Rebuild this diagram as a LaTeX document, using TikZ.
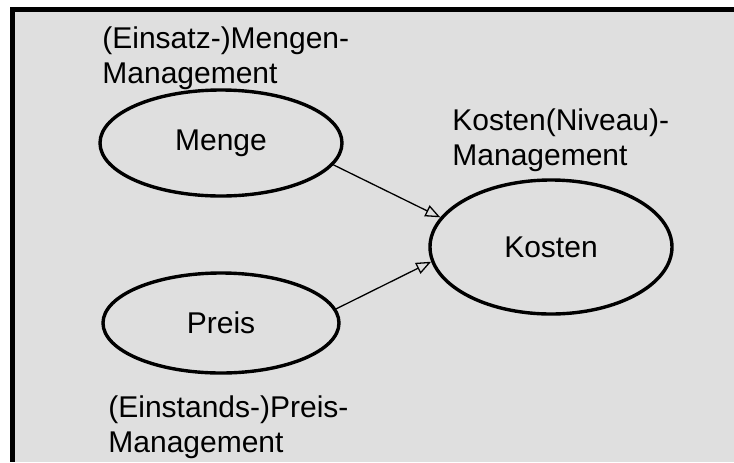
\documentclass[tikz,border=0pt]{standalone}
\usepackage{fontspec}
\setmainfont{Liberation Sans}
\usetikzlibrary{arrows.meta, shapes.geometric}
\definecolor{panel}{RGB}{223,223,223}
\tikzset{
  bubble/.style={ellipse, draw=black, line width=1.7pt, inner sep=0pt,
                 font=\fontsize{15}{17.5}\selectfont},
  caption/.style={anchor=base west, align=left, inner sep=0pt,
                  font=\fontsize{15}{17.5}\selectfont},
  link/.style={line width=0.65pt, -{Triangle[open, length=7.5pt, width=6pt, line width=0.65pt]}}
}
\begin{document}
\begin{tikzpicture}[x=0.5pt, y=-0.5pt]
  \useasboundingbox (0,0) rectangle (734,462);
  % background panel with its frame on the top and left
  \fill[white] (0,0) rectangle (734,462);
  \fill[panel] (10,7) rectangle (734,462);
  \fill[black] (10,7) rectangle (734,12);
  \fill[black] (10,7) rectangle (15,462);

  % the three quantities
  \node[bubble, minimum width=121pt, minimum height=53pt] (menge)  at (221,143) {Menge};
  \node[bubble, minimum width=118pt, minimum height=50pt] (preis)  at (221,323) {Preis};
  \node[bubble, minimum width=121pt, minimum height=67pt] (kosten) at (551,247) {Kosten};

  % management labels (anchored at the baseline of their last line)
  \node[caption] (lmenge)  at (102,83)  {(Einsatz-)Mengen-\\Management};
  \node[caption] (lkosten) at (452,165) {Kosten(Niveau)-\\Management};
  \node[caption] (lpreis)  at (108,452) {(Einstands-)Preis-\\Management};

  % influences on the cost level
  \draw[link] (menge.-11) -- (kosten.165);
  \draw[link] (preis.7) -- (kosten.187);
\end{tikzpicture}
\end{document}
